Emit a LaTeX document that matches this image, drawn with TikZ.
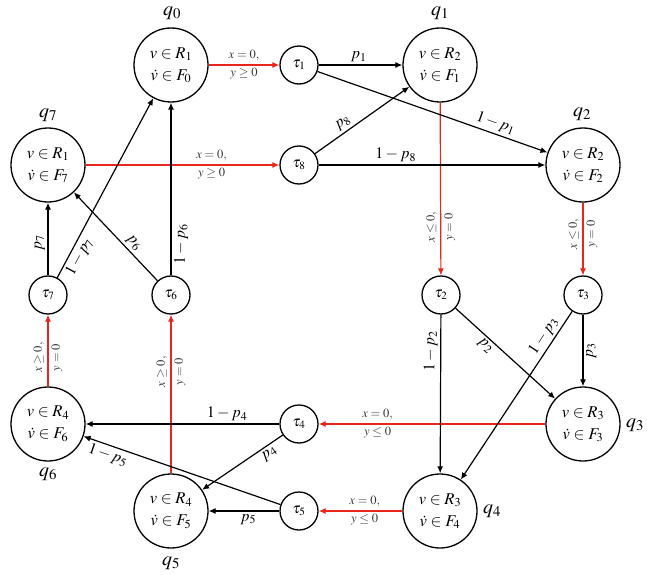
\documentclass[tikz,border=0pt]{standalone}
\usepackage{mathptmx}
\usetikzlibrary{arrows.meta}
\definecolor{ered}{RGB}{232,38,28}
\begin{document}
\begin{tikzpicture}[x=1pt,y=-1pt,
  big/.style={circle,draw,line width=1.3pt,minimum size=74pt,inner sep=0pt,
    font=\fontsize{16.5}{22}\selectfont,align=center},
  tau/.style={circle,draw,line width=1.3pt,minimum size=38pt,inner sep=0pt,
    font=\fontsize{15}{18}\selectfont},
  qlab/.style={font=\fontsize{20}{24}\selectfont},
  bl/.style={-{Latex[length=7pt,width=6pt]},line width=1.2pt},
  rd/.style={bl,draw=ered},
  el/.style={font=\fontsize{16}{18}\selectfont,inner sep=2.5pt},
  sl/.style={font=\fontsize{12.5}{14}\selectfont,text=black!80,inner sep=3pt},
]
\useasboundingbox (0,0) rectangle (653,575);
% big nodes
\node[big] (q0) at (171,65)  {$v\in R_1$\\$\dot v\in F_0$};
\node[big] (q1) at (440,65)  {$v\in R_2$\\$\dot v\in F_1$};
\node[big] (q2) at (583,165) {$v\in R_2$\\$\dot v\in F_2$};
\node[big] (q3) at (583,424) {$v\in R_3$\\$\dot v\in F_3$};
\node[big] (q4) at (440,511) {$v\in R_3$\\$\dot v\in F_4$};
\node[big] (q5) at (171,511) {$v\in R_4$\\$\dot v\in F_5$};
\node[big] (q6) at (48,424)  {$v\in R_4$\\$\dot v\in F_6$};
\node[big] (q7) at (48,165)  {$v\in R_1$\\$\dot v\in F_7$};
% q labels
\node[qlab] (l0) at (172,13)  {$q_0$};
\node[qlab] (l1) at (440,13)  {$q_1$};
\node[qlab] (l2) at (582,114) {$q_2$};
\node[qlab] (l3) at (635,425) {$q_3$};
\node[qlab] (l4) at (492,511) {$q_4$};
\node[qlab] (l5) at (171,563) {$q_5$};
\node[qlab] (l6) at (48,474)  {$q_6$};
\node[qlab] (l7) at (48,115)  {$q_7$};
% tau nodes
\node[tau] (t1) at (299,65)  {$\tau_1$};
\node[tau] (t8) at (299,165) {$\tau_8$};
\node[tau] (t2) at (441,295) {$\tau_2$};
\node[tau] (t3) at (583,295) {$\tau_3$};
\node[tau] (t4) at (299,424) {$\tau_4$};
\node[tau] (t5) at (299,511) {$\tau_5$};
\node[tau] (t6) at (171,295) {$\tau_6$};
\node[tau] (t7) at (48,295)  {$\tau_7$};
% red guard edges
\draw[rd] (q0) -- node[sl,above]{$x=0,$} node[sl,below]{$y\geq0$} (t1);
\draw[rd] (q7) -- node[sl,above,pos=0.65]{$x=0,$} node[sl,below,pos=0.65]{$y\geq0$} (t8);
\draw[rd] (q1) -- node[sl,rotate=90,above,pos=0.72]{$x\leq0,$} node[sl,rotate=90,below,pos=0.72]{$y=0$} (t2);
\draw[rd] (q2) -- node[sl,rotate=90,above,pos=0.43]{$x\leq0,$} node[sl,rotate=90,below,pos=0.43]{$y=0$} (t3);
\draw[rd] (q3) -- node[sl,above,pos=0.74]{$x=0,$} node[sl,below,pos=0.74]{$y\leq0$} (t4);
\draw[rd] (q4) -- node[sl,above,pos=0.45]{$x=0,$} node[sl,below,pos=0.45]{$y\leq0$} (t5);
\draw[rd] (q5) -- node[sl,rotate=90,above,pos=0.64]{$x\geq0,$} node[sl,rotate=90,below,pos=0.64]{$y=0$} (t6);
\draw[rd] (q6) -- node[sl,rotate=90,above,pos=0.4]{$x\geq0,$} node[sl,rotate=90,below,pos=0.4]{$y=0$} (t7);
% black probability edges
\draw[bl] (t1) -- node[el,above,pos=0.48]{$p_1$} (q1);
\draw[bl] (t1) -- node[el,above,sloped,pos=0.76]{$1-p_1$} (q2);
\draw[bl] (t8) -- node[el,above,sloped,pos=0.35]{$p_8$} (q1);
\draw[bl] (t8) -- node[el,above,pos=0.34]{$1-p_8$} (q2);
\draw[bl] (t2) -- node[el,below,sloped,pos=0.35]{$p_2$} (q3);
\draw[bl] (t2) -- node[el,rotate=90,above,pos=0.23]{$1-p_2$} (q4);
\draw[bl] (t3) -- node[el,rotate=90,below,pos=0.5]{$p_3$} (q3);
\draw[bl] (t3) -- node[el,above,sloped,pos=0.18]{$1-p_3$} (q4);
\draw[bl] (t4) -- node[el,above,pos=0.27]{$1-p_4$} (q6);
\draw[bl] (t4) -- node[el,below,sloped,pos=0.22]{$p_4$} (q5);
\draw[bl] (t5) -- node[el,below,pos=0.44]{$p_5$} (q5);
\draw[bl] (t5) -- node[el,below,sloped,pos=0.86]{$1-p_5$} (q6);
\draw[bl] (t6) -- node[el,above,sloped,pos=0.36]{$p_6$} (q7);
\draw[bl] (t6) -- node[el,rotate=90,below,pos=0.18]{$1-p_6$} (q0);
\draw[bl] (t7) -- node[el,rotate=90,above,pos=0.45]{$p_7$} (q7);
\draw[bl] (t7) -- node[el,below,sloped,pos=0.14]{$1-p_7$} (q0);
\end{tikzpicture}
\end{document}
